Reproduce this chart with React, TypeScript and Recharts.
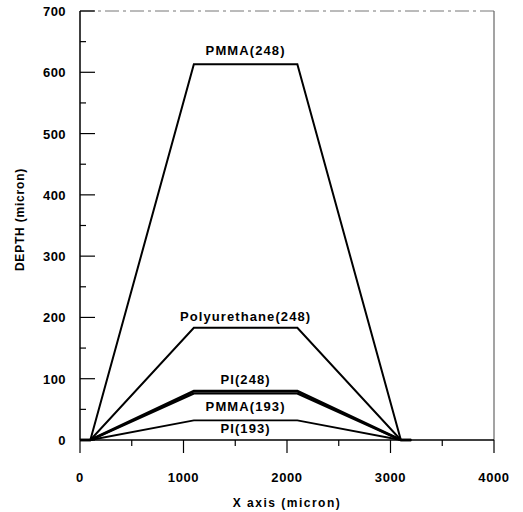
import { LineChart, Line, XAxis, YAxis, ReferenceLine, ReferenceDot } from 'recharts'

// profile x positions (micron)
const xPoints = [0, 100, 1100, 2100, 3100, 3200]

// depth values (micron) for each material/wavelength
const pmma248 = [0, 0, 613, 613, 0, 0]
const polyurethane248 = [0, 0, 183, 183, 0, 0]
const pi248 = [0, 0, 80, 80, 0, 0]
const pmma193 = [0, 0, 76, 76, 0, 0]
const pi193 = [0, 0, 32, 32, 0, 0]

const seriesNames = ['PMMA(248)', 'Polyurethane(248)', 'PI(248)', 'PMMA(193)', 'PI(193)']
const seriesKeys = ['pmma248', 'polyurethane248', 'pi248', 'pmma193', 'pi193']
const seriesValues = [pmma248, polyurethane248, pi248, pmma193, pi193]

const xTicks = [0, 500, 1000, 1500, 2000, 2500, 3000, 3500, 4000]
const yTicks = [0, 50, 100, 150, 200, 250, 300, 350, 400, 450, 500, 550, 600, 650, 700]

const data = xPoints.map((x, i) => {
  const row: any = { x }
  seriesKeys.forEach((k, s) => { row[k] = seriesValues[s][i] })
  return row
})

// looks per series
const widths = [2, 2, 2.6, 2.4, 1.8]
const labelDy = [-9, -7, -7, 18, 13]

const font = '"Liberation Sans", Arial, sans-serif'

function XTick({ x, y, payload }: any) {
  const major = payload.value % 1000 === 0
  return (
    <g>
      <line x1={x} x2={x} y1={y} y2={y + (major ? 13 : 6)} stroke="#000" strokeWidth={1.2} />
      {major && (
        <text x={x} y={y + 42} textAnchor="middle" fontFamily={font} fontWeight="bold" fontSize={13} letterSpacing={0.6} fill="#000">
          {payload.value}
        </text>
      )}
    </g>
  )
}

function YTick({ x, y, payload }: any) {
  const major = payload.value % 100 === 0
  return (
    <g>
      <line x1={x} x2={x + (major ? 15 : 6)} y1={y} y2={y} stroke="#000" strokeWidth={1.2} />
      {major && (
        <text x={x - 14} y={y + 5} textAnchor="end" fontFamily={font} fontWeight="bold" fontSize={13} letterSpacing={0.4} fill="#000">
          {payload.value}
        </text>
      )}
    </g>
  )
}

export default function App() {
  return (
    <div style={{ position: 'absolute', left: 0, top: 0, width: 523, height: 512, background: '#fff' }}>
      <LineChart width={523} height={512} data={data} margin={{ top: 11, right: 29, bottom: 0, left: 0 }}>
        <XAxis
          dataKey="x"
          type="number"
          domain={[0, 4000]}
          ticks={xTicks}
          interval={0}
          tickSize={0}
          tickMargin={0}
          tickLine={false}
          tick={<XTick />}
          axisLine={{ stroke: '#000', strokeWidth: 1.5 }}
          height={72}
          label={{ value: 'X axis (micron)', position: 'insideBottom', offset: 5, style: { fontFamily: font, fontWeight: 'bold', fontSize: 12, letterSpacing: 1.5, fill: '#000' } }}
        />
        <YAxis
          type="number"
          domain={[0, 700]}
          ticks={yTicks}
          interval={0}
          tickSize={0}
          tickMargin={0}
          tickLine={false}
          tick={<YTick />}
          axisLine={{ stroke: '#000', strokeWidth: 1.5 }}
          width={80}
          label={{ value: 'DEPTH (micron)', angle: -90, position: 'insideLeft', offset: 20, dy: -6, style: { fontFamily: font, fontWeight: 'bold', fontSize: 12, letterSpacing: 0.8, fill: '#000', textAnchor: 'middle' } }}
        />
        <ReferenceLine y={700} stroke="#777" strokeWidth={1} strokeDasharray="14 4 3 4" />
        <ReferenceLine x={4000} stroke="#666" strokeWidth={1.2} />
        {seriesKeys.map((k, s) => (
          <Line
            key={k}
            dataKey={k}
            type="linear"
            stroke="#000"
            strokeWidth={widths[s]}
            dot={false}
            isAnimationActive={false}
          />
        ))}
        {seriesNames.map((name, s) => (
          <ReferenceDot
            key={name}
            x={(xPoints[2] + xPoints[3]) / 2}
            y={seriesValues[s][2]}
            r={0}
            stroke="none"
            fill="none"
            label={(props: any) => (
              <text
                x={props.viewBox.x}
                y={props.viewBox.y + labelDy[s]}
                textAnchor="middle"
                fontFamily={font}
                fontWeight="bold"
                fontSize={13}
                letterSpacing={1.1}
                fill="#000"
              >
                {name}
              </text>
            )}
          />
        ))}
      </LineChart>
    </div>
  )
}
